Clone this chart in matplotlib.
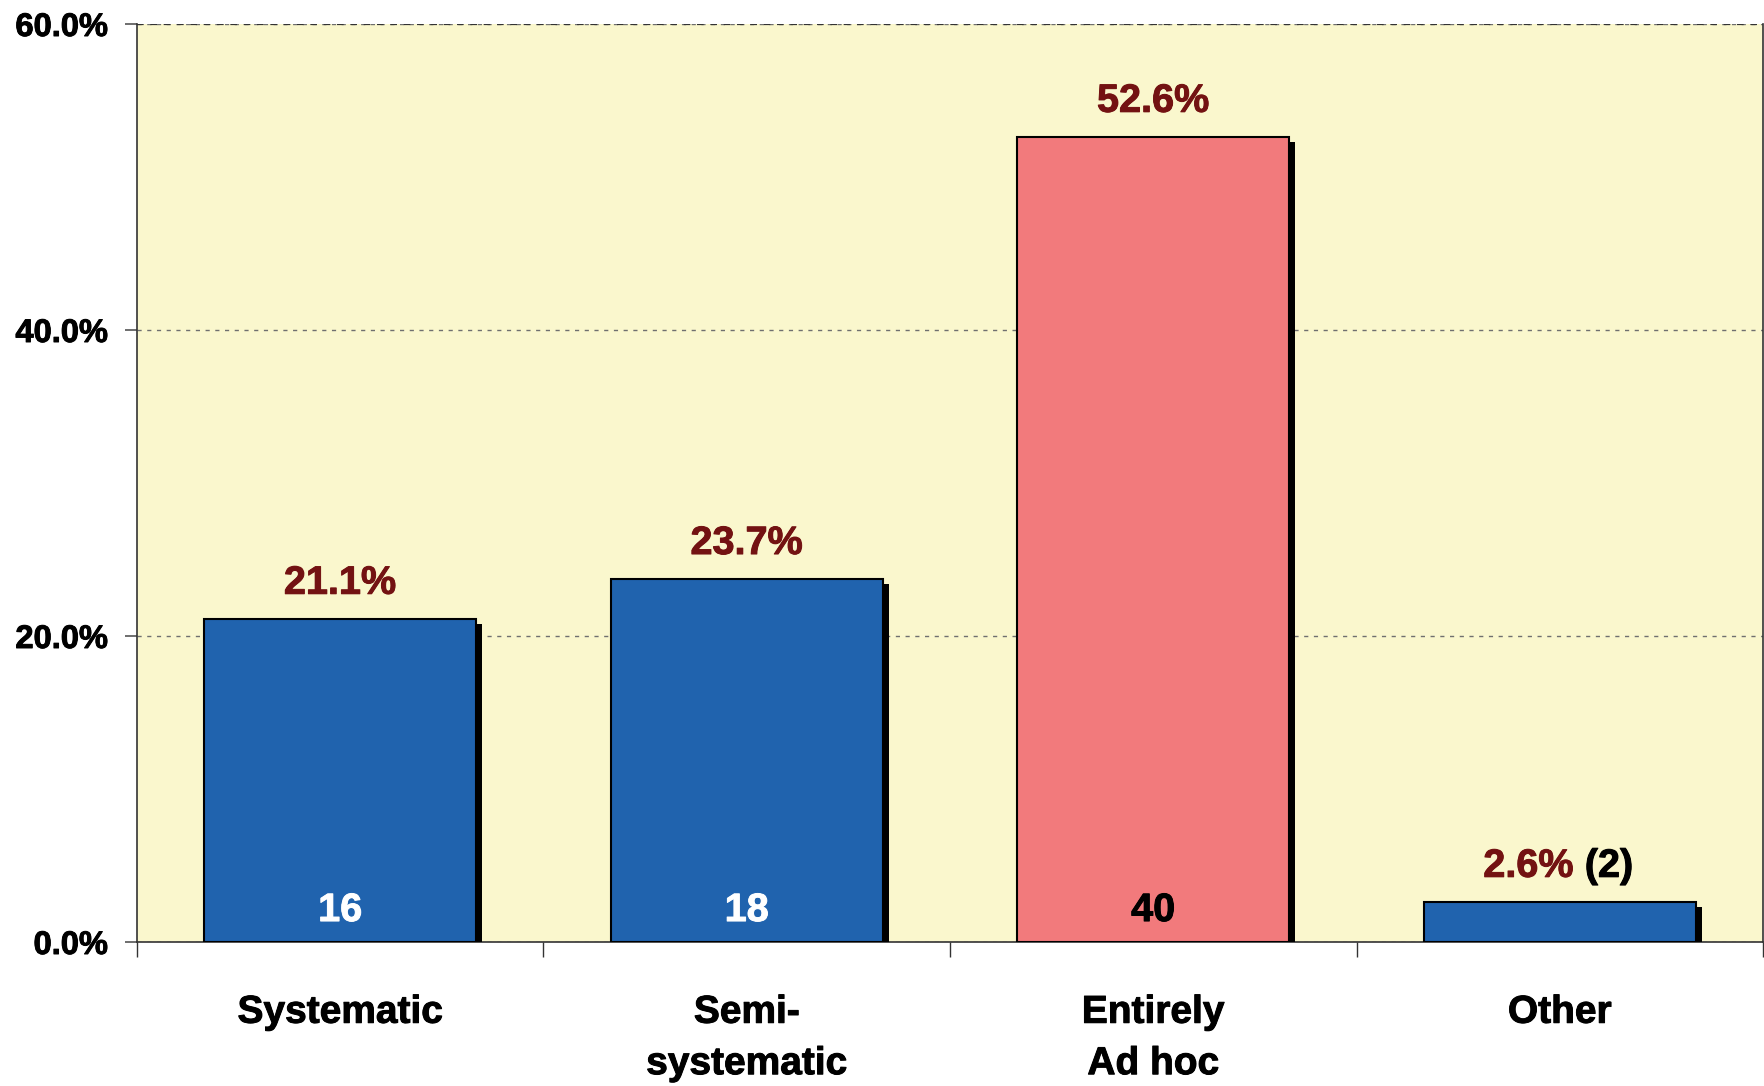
import matplotlib
matplotlib.use('Agg')
import matplotlib.pyplot as plt
import matplotlib.patheffects as pe
from matplotlib.ticker import PercentFormatter

categories = ['Systematic', 'Semi-\nsystematic', 'Entirely\nAd hoc', 'Other']
percents = [21.1, 23.7, 52.6, 2.6]
counts = [16, 18, 40, 2]
bar_colors = ['#2063ae', '#2063ae', '#f27a7c', '#2063ae']
count_colors = ['white', 'white', 'black', None]

plt.rcParams['font.family'] = ['Liberation Sans', 'DejaVu Sans']
plt.rcParams['font.weight'] = 'bold'

fig = plt.figure(figsize=(17.65, 10.86), dpi=100)
ax = fig.add_axes([0.0776, 0.1326, 0.9213, 0.8453])
ax.set_facecolor('#faf7cd')

x = range(len(categories))
shadow = [pe.SimplePatchShadow(offset=(4.3, -3.6), shadow_rgbFace='black', alpha=1.0),
          pe.Normal()]
bars = ax.bar(x, percents, width=0.67, color=bar_colors, edgecolor='black',
              linewidth=1.5, zorder=3)
for b in bars:
    b.set_path_effects(shadow)

ax.set_xlim(-0.5, 3.5)
ax.set_ylim(0, 60)
ax.yaxis.set_major_formatter(PercentFormatter(decimals=1))
ax.set_yticks([0, 20, 40, 60])
ax.grid(axis='y', linestyle=(0, (3, 4)), color='#6f6f6f', linewidth=1.0, zorder=1)
# top of the range drawn a bit darker
ax.axhline(60, linestyle=(0, (3, 3)), color='#333333', linewidth=1.6, zorder=2)

# thicker glyphs for the bold labels
heavy = [pe.withStroke(linewidth=0.7, foreground='black')]

# boundary ticks below the axis, category names in between
ax.set_xticks([-0.5, 0.5, 1.5, 2.5, 3.5])
ax.set_xticklabels([])
ax.tick_params(axis='x', which='major', length=11, width=1.0, color='#333333')
ax.set_xticks(list(x), minor=True)
ax.set_xticklabels(categories, minor=True, fontsize=28, fontweight='bold',
                   va='top', linespacing=1.55)
ax.tick_params(axis='x', which='minor', length=0, pad=38)
ax.tick_params(axis='y', length=9, width=1.2, color='#555555', labelsize=23.5, pad=12)
for lab in ax.get_yticklabels() + ax.get_xticklabels(minor=True):
    lab.set_fontweight('bold')
    lab.set_path_effects(heavy)

for s in ['left', 'right', 'bottom']:
    ax.spines[s].set_color('#333333')
    ax.spines[s].set_linewidth(1.2)
ax.spines['top'].set_visible(False)

red = '#731212'
red_fx = [pe.withStroke(linewidth=0.7, foreground=red)]
for i, (p, n) in enumerate(zip(percents, counts)):
    if i == 3:
        ax.annotate(f'{p:.1f}%', (i, p), xytext=(10, 12.5), textcoords='offset points',
                    ha='right', va='bottom', fontsize=28.5, fontweight='bold', color=red,
                    path_effects=red_fx)
        ax.annotate(f'({n})', (i, p), xytext=(18, 12.5), textcoords='offset points',
                    ha='left', va='bottom', fontsize=28.5, fontweight='bold', color='black',
                    path_effects=heavy)
    else:
        ax.annotate(f'{p:.1f}%', (i, p), xytext=(0, 12.5), textcoords='offset points',
                    ha='center', va='bottom', fontsize=28.5, fontweight='bold', color=red,
                    path_effects=red_fx)
        c = count_colors[i]
        ax.annotate(str(n), (i, 0), xytext=(0, 23), textcoords='offset points',
                    ha='center', va='center', fontsize=28.5, fontweight='bold',
                    color=c, zorder=5,
                    path_effects=[pe.withStroke(linewidth=0.7, foreground=c)])

fig.savefig('out.png', dpi=100)
